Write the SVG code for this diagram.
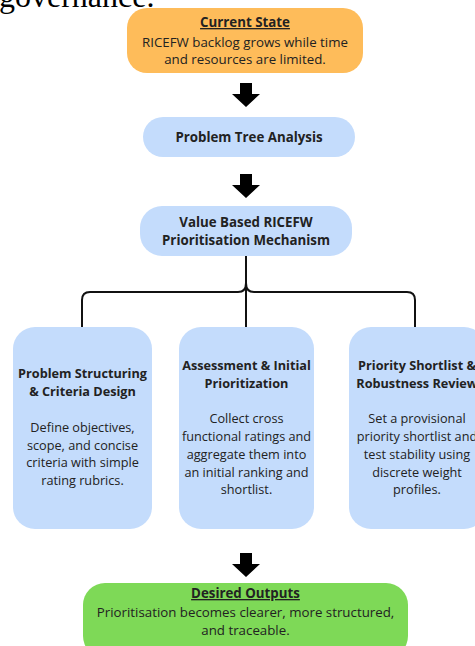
<svg xmlns="http://www.w3.org/2000/svg" width="475" height="646" viewBox="0 0 475 646">
<style>
.t{font-family:"Open Sans","Noto Sans","Liberation Sans",sans-serif;font-size:12.7px;fill:#222;text-anchor:middle}
.l{font-size:13.3px}
.b{font-weight:bold}
.u{text-decoration:underline}
.blue{fill:#C4DCFC}
.conn{fill:none;stroke:#111;stroke-width:2}
.arr{fill:#000}
</style>
<defs>
<path id="blk" d="M-6,0 H6 V11 H14 L0,24 L-14,11 H-6 Z"/>
</defs>
<rect width="475" height="646" fill="#fff"/>
<text x="-1" y="7" font-family="'Liberation Serif',serif" font-size="32" fill="#000">governance.</text>

<g id="current-state">
<rect x="127" y="8" width="236" height="65" rx="20" fill="#FEBC5A"/>
<text class="t l b u" x="245" y="27">Current State</text>
<text class="t l" x="245" y="47">RICEFW backlog grows while time</text>
<text class="t l" x="245" y="64">and resources are limited.</text>
</g>

<g id="problem-tree">
<rect class="blue" x="143" y="117" width="212" height="40" rx="20"/>
<text class="t l b" x="249" y="142">Problem Tree Analysis</text>
</g>

<g id="value-based">
<rect class="blue" x="140" y="206" width="212" height="50" rx="22"/>
<text class="t l b" x="246" y="227">Value Based RICEFW</text>
<text class="t l b" x="246" y="245">Prioritisation Mechanism</text>
</g>

<g id="problem-structuring">
<rect class="blue" x="13" y="327" width="139" height="202" rx="22"/>
<text class="t b" x="82.5" y="378">Problem Structuring</text>
<text class="t b" x="82.5" y="396">&amp; Criteria Design</text>
<text class="t" x="82.5" y="432">Define objectives,</text>
<text class="t" x="82.5" y="450">scope, and concise</text>
<text class="t" x="82.5" y="467">criteria with simple</text>
<text class="t" x="82.5" y="485">rating rubrics.</text>
</g>

<g id="assessment">
<rect class="blue" x="179" y="327" width="135" height="202" rx="22"/>
<text class="t b" x="246.5" y="370">Assessment &amp; Initial</text>
<text class="t b" x="246.5" y="388">Prioritization</text>
<text class="t" x="246.5" y="423">Collect cross</text>
<text class="t" x="246.5" y="441">functional ratings and</text>
<text class="t" x="246.5" y="459">aggregate them into</text>
<text class="t" x="246.5" y="477">an initial ranking and</text>
<text class="t" x="246.5" y="494">shortlist.</text>
</g>

<g id="priority-shortlist">
<rect class="blue" x="349" y="327" width="137" height="202" rx="22"/>
<text class="t b" x="417" y="370">Priority Shortlist &amp;</text>
<text class="t b" x="417" y="388">Robustness Review</text>
<text class="t" x="417" y="423">Set a provisional</text>
<text class="t" x="417" y="441">priority shortlist and</text>
<text class="t" x="417" y="459">test stability using</text>
<text class="t" x="417" y="477">discrete weight</text>
<text class="t" x="417" y="494">profiles.</text>
</g>

<g id="desired-outputs">
<rect x="83" y="583" width="325" height="75" rx="22" fill="#7ED957"/>
<text class="t l b u" x="245.5" y="598">Desired Outputs</text>
<text class="t l" x="245.5" y="617">Prioritisation becomes clearer, more structured,</text>
<text class="t l" x="245.5" y="635">and traceable.</text>
</g>

<g id="connectors">
<use href="#blk" x="246" y="83" class="arr"/>
<use href="#blk" x="246" y="174" class="arr"/>
<use href="#blk" x="246" y="553" class="arr"/>
<path class="conn" d="M246,256 V327"/>
<path class="conn" d="M82,327 V300 Q82,292 90,292 H238 Q246,292 246,283"/>
<path class="conn" d="M415,327 V300 Q415,292 407,292 H254 Q246,292 246,283"/>
</g>
</svg>
